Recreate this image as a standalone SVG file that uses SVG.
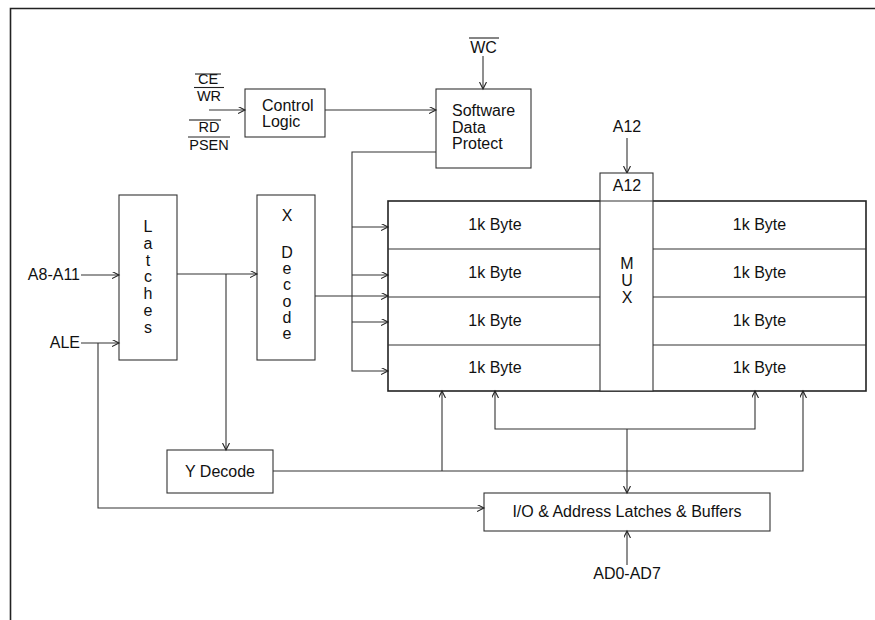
<svg xmlns="http://www.w3.org/2000/svg" width="875" height="620" viewBox="0 0 875 620">
<defs>
<style>
text{font-family:"Liberation Sans",Arial,sans-serif;font-size:16px;fill:#111}
.sig{font-size:14.5px}
.box{fill:none;stroke:#333;stroke-width:1.1}
.arr{fill:none;stroke:#333;stroke-width:1.1}
.ol{stroke:#222;stroke-width:1.1}
.c{text-anchor:middle}
.e{text-anchor:end}
</style>
<marker id="ah" markerUnits="userSpaceOnUse" markerWidth="10" markerHeight="10" refX="7" refY="3.5" orient="auto-start-reverse">
<path d="M0,0 L7,3.5 L0,7" fill="none" stroke="#222" stroke-width="1.1"/>
</marker>
</defs>
<rect width="875" height="620" fill="#fff"/>
<path d="M10.5,620 V8.5 H875" fill="none" stroke="#222" stroke-width="1.6"/>

<g id="connectors">
<path class="arr" d="M209,110 H245" marker-end="url(#ah)"/>
<path class="arr" d="M325,110 H436" marker-end="url(#ah)"/>
<path class="arr" d="M483,56 V89" marker-end="url(#ah)"/>
<path class="arr" d="M436,152 H352 V371 H388" marker-end="url(#ah)"/>
<path class="arr" d="M352,227 H388" marker-end="url(#ah)"/>
<path class="arr" d="M352,275 H388" marker-end="url(#ah)"/>
<path class="arr" d="M352,322 H388" marker-end="url(#ah)"/>
<path class="arr" d="M315,296 H388" marker-end="url(#ah)"/>
<path class="arr" d="M627,138 V173" marker-end="url(#ah)"/>
<path class="arr" d="M81,275 H119" marker-end="url(#ah)"/>
<path class="arr" d="M81,343 H119" marker-end="url(#ah)"/>
<path class="arr" d="M98,343 V508 H484" marker-end="url(#ah)"/>
<path class="arr" d="M177,274 H257" marker-end="url(#ah)"/>
<path class="arr" d="M226,274 V450" marker-end="url(#ah)"/>
<path class="arr" d="M273,471 H803 V391" marker-end="url(#ah)"/>
<path class="arr" d="M442,471 V391" marker-end="url(#ah)"/>
<path class="arr" d="M495,391 V429 H755 V391" marker-start="url(#ah)" marker-end="url(#ah)"/>
<path class="arr" d="M627,429 V493" marker-end="url(#ah)"/>
<path class="arr" d="M627,565 V531" marker-end="url(#ah)"/>
</g>

<g id="signals">
<text class="c sig" x="208" y="84">CE</text>
<line class="ol" x1="195" y1="74" x2="221" y2="74"/>
<text class="c sig" x="209" y="100.5">WR</text>
<line class="ol" x1="194" y1="87.5" x2="224" y2="87.5"/>
<text class="c sig" x="209" y="132">RD</text>
<line class="ol" x1="189" y1="120" x2="221" y2="120"/>
<text class="c sig" x="209" y="150">PSEN</text>
<line class="ol" x1="188" y1="137" x2="230" y2="137"/>
<text class="c" x="483.5" y="53">WC</text>
<line class="ol" x1="469" y1="38" x2="499" y2="38"/>
<text class="e" x="80" y="280">A8-A11</text>
<text class="e" x="80" y="348">ALE</text>
<text class="c" x="627" y="132">A12</text>
<text class="c" x="627" y="579">AD0-AD7</text>
</g>

<g id="control-logic">
<rect class="box" x="245" y="89" width="80" height="48"/>
<text x="262" y="111">Control</text>
<text x="262" y="127">Logic</text>
</g>

<g id="software-data-protect">
<rect class="box" x="436" y="89" width="95" height="79"/>
<text x="452" y="116">Software</text>
<text x="452" y="132.5">Data</text>
<text x="452" y="149">Protect</text>
</g>

<g id="latches">
<rect class="box" x="119" y="195" width="58" height="165"/>
<text class="c" x="148" y="232">L</text>
<text class="c" x="148" y="249">a</text>
<text class="c" x="148" y="265.5">t</text>
<text class="c" x="148" y="282">c</text>
<text class="c" x="148" y="299">h</text>
<text class="c" x="148" y="316">e</text>
<text class="c" x="148" y="333">s</text>
</g>

<g id="x-decode">
<rect class="box" x="257" y="195" width="58" height="165"/>
<text class="c" x="287" y="221">X</text>
<text class="c" x="287" y="258">D</text>
<text class="c" x="287" y="274">e</text>
<text class="c" x="287" y="290">c</text>
<text class="c" x="287" y="307">o</text>
<text class="c" x="287" y="323">d</text>
<text class="c" x="287" y="339">e</text>
</g>

<g id="memory-array">
<rect x="388" y="201" width="478" height="190" fill="none" stroke="#222" stroke-width="1.6"/>
<line class="box" x1="388" y1="249" x2="866" y2="249"/>
<line class="box" x1="388" y1="297" x2="866" y2="297"/>
<line class="box" x1="388" y1="345" x2="866" y2="345"/>
<text class="c" x="495" y="230">1k Byte</text>
<text class="c" x="495" y="278">1k Byte</text>
<text class="c" x="495" y="326">1k Byte</text>
<text class="c" x="495" y="373">1k Byte</text>
<text class="c" x="759.5" y="230">1k Byte</text>
<text class="c" x="759.5" y="278">1k Byte</text>
<text class="c" x="759.5" y="326">1k Byte</text>
<text class="c" x="759.5" y="373">1k Byte</text>
</g>

<g id="mux">
<rect x="600" y="173" width="53" height="218" fill="#fff" stroke="#333" stroke-width="1.1"/>
<line class="box" x1="600" y1="201" x2="653" y2="201"/>
<text class="c" x="627" y="191">A12</text>
<text class="c" x="627" y="269">M</text>
<text class="c" x="627" y="286">U</text>
<text class="c" x="627" y="303">X</text>
</g>

<g id="y-decode">
<rect class="box" x="167" y="450" width="106" height="43"/>
<text class="c" x="220" y="477">Y Decode</text>
</g>

<g id="io-latches">
<rect class="box" x="484" y="493" width="286" height="38"/>
<text class="c" x="627" y="517">I/O &amp; Address Latches &amp; Buffers</text>
</g>
</svg>
